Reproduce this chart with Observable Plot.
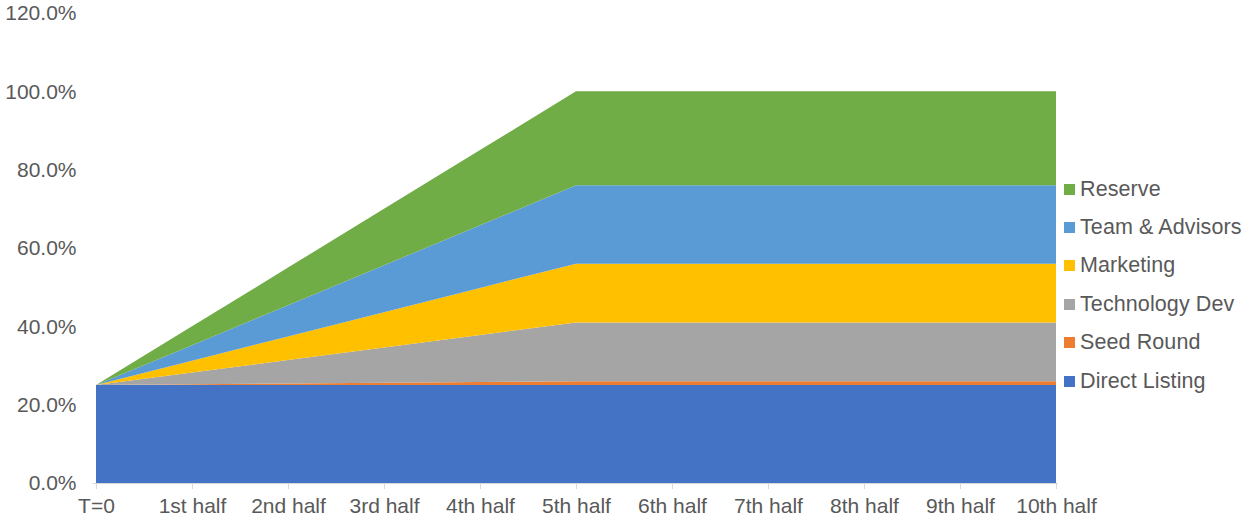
<!DOCTYPE html>
<html>
<head>
<meta charset="utf-8">
<script src="https://cdn.jsdelivr.net/npm/d3@7"></script>
<script src="https://cdn.jsdelivr.net/npm/@observablehq/plot@0.6"></script>
<style>
  html, body { margin: 0; padding: 0; background: #fff; }
  #wrap { position: relative; width: 1250px; height: 520px; font-family: "Liberation Sans", Arial, sans-serif; }
  #legend { position: absolute; left: 1064px; top: 170px; color: #595959; font-size: 21.5px; letter-spacing: 0.1px; }
  #legend .row { display: flex; align-items: center; height: 38.4px; white-space: nowrap; }
  #legend .sw { width: 11px; height: 11px; margin-right: 5px; flex: none; }
</style>
</head>
<body>
<div id="wrap"></div>
<script>
// Token allocation schedule (% of total supply), released in half-year steps
const categories = ["T=0", "1st half", "2nd half", "3rd half", "4th half", "5th half",
                    "6th half", "7th half", "8th half", "9th half", "10th half"];
const directListing = [25, 25, 25, 25, 25, 25, 25, 25, 25, 25, 25];
const seedRound     = [0, 0.2, 0.4, 0.6, 0.8, 1, 1, 1, 1, 1, 1];
const technologyDev = [0, 3, 6, 9, 12, 15, 15, 15, 15, 15, 15];
const marketing     = [0, 3, 6, 9, 12, 15, 15, 15, 15, 15, 15];
const teamAdvisors  = [0, 4, 8, 12, 16, 20, 20, 20, 20, 20, 20];
const reserve       = [0, 4.8, 9.6, 14.4, 19.2, 24, 24, 24, 24, 24, 24];

const seriesNames  = ["Direct Listing", "Seed Round", "Technology Dev", "Marketing", "Team & Advisors", "Reserve"];
const seriesColors = ["#4472C4", "#ED7D31", "#A5A5A5", "#FFC000", "#5B9BD5", "#70AD47"];
const seriesValues = [directListing, seedRound, technologyDev, marketing, teamAdvisors, reserve];
const yTicks = [0, 20, 40, 60, 80, 100, 120];

// Long-format table for the stacked areas
const rows = [];
seriesNames.forEach((name, i) => {
  categories.forEach((cat, j) => rows.push({ period: cat, series: name, value: seriesValues[i][j] }));
});

const textColor = "#595959";
const chart = Plot.plot({
  width: 1250,
  height: 520,
  marginLeft: 93,
  marginRight: 192,
  marginTop: 13,
  marginBottom: 37,
  style: { fontFamily: "'Liberation Sans', Arial, sans-serif", fontSize: "21px", color: textColor, background: "#fff" },
  x: { type: "point", domain: categories, padding: 0 },
  y: { domain: [0, 120] },
  color: { domain: seriesNames, range: seriesColors },
  marks: [
    Plot.areaY(rows, { x: "period", y: "value", z: "series", fill: "series", order: seriesNames }),
    Plot.ruleY([0], { stroke: "#d9d9d9", strokeWidth: 1.2 }),
    Plot.axisX({ ticks: categories, tickSize: 6, tickPadding: 9, stroke: "#d9d9d9", fill: textColor, label: null }),
    Plot.axisY({ ticks: yTicks, tickSize: 0, tickPadding: 17, tickFormat: d => d.toFixed(1) + "%", fill: textColor, label: null })
  ]
});

const wrap = document.getElementById("wrap");
wrap.appendChild(chart);

// Legend on the right, top-to-bottom matching the stack order from top
const legend = document.createElement("div");
legend.id = "legend";
seriesNames.slice().reverse().forEach(name => {
  const row = document.createElement("div");
  row.className = "row";
  const sw = document.createElement("span");
  sw.className = "sw";
  sw.style.background = seriesColors[seriesNames.indexOf(name)];
  const label = document.createElement("span");
  label.textContent = name;
  row.appendChild(sw);
  row.appendChild(label);
  legend.appendChild(row);
});
wrap.appendChild(legend);
</script>
</body>
</html>
